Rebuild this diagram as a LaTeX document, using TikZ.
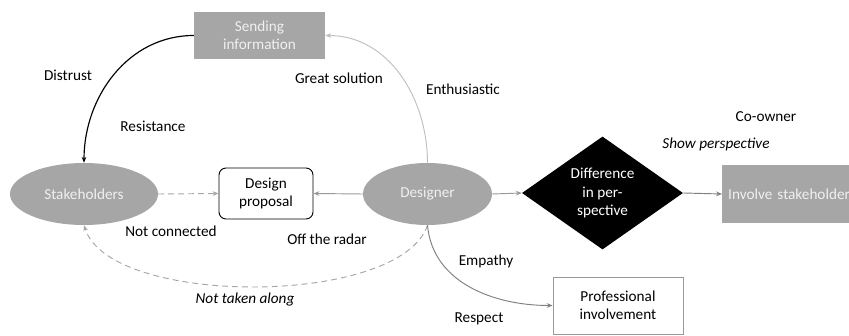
\documentclass[tikz,border=0pt]{standalone}
\usepackage{fontspec}
\setmainfont{Carlito}
\usetikzlibrary{arrows.meta,shapes.geometric,positioning}
\definecolor{boxgray}{HTML}{A6A6A6}
\definecolor{boxtext}{HTML}{F0F0F0}
\definecolor{lightline}{HTML}{BFBFBF}
\definecolor{midline}{HTML}{999999}
\definecolor{darkline}{HTML}{7F7F7F}

\begin{document}
\begin{tikzpicture}[x=0.03cm, y=0.03cm,
    font=\fontsize{13}{15.5}\selectfont,
    >={Stealth[length=5pt,width=4pt]},
    graybox/.style={rectangle, fill=boxgray, text=boxtext, inner sep=0pt, align=center},
    grayoval/.style={ellipse, fill=boxgray, text=boxtext, inner sep=0pt, minimum height=1.86cm},
    whitebox/.style={rectangle, fill=white, inner sep=0pt, align=center},
    conn/.style={->, line width=0.8pt},
    dashconn/.style={->, line width=0.8pt, draw=boxgray, dash pattern=on 5pt off 3.5pt}]
    \useasboundingbox (0,0) rectangle (849,335);

    % Nodes
    \node[graybox, minimum width=3.93cm, minimum height=1.41cm] (send) at (259.5, 299.5) {Sending\\information};
    \node[grayoval, minimum width=4.44cm] (stake) at (84, 141) {Stakeholders};
    \node[whitebox, draw=black, line width=0.8pt, rounded corners=6pt, minimum width=2.82cm, minimum height=1.53cm] (prop) at (266, 141.5) {Design\\proposal};
    \node[grayoval, minimum width=3.87cm] (des) at (427.5, 141) {Designer};
    \node[diamond, fill=black, text=white, inner sep=0pt, align=center, minimum width=4.83cm, minimum height=3cm] (diff) at (602.5, 142) {Difference\\in per-\\spective};
    \node[graybox, anchor=west, align=left, text width=4.4cm, inner xsep=0.18cm, minimum height=1.74cm] (inv) at (722, 141) {Involve stakeholders};
    \node[whitebox, draw=midline, line width=0.8pt, minimum width=3.9cm, minimum height=1.71cm] (prof) at (618, 29.5) {Professional\\involvement};

    % Connectors
    \draw[conn, draw=black, line width=1pt] (send.west) to[out=180, in=90] (stake.north);
    \draw[conn, draw=lightline] (des.north) to[out=90, in=0] (send.east);
    \draw[dashconn] (stake.east) -- (prop.west);
    \draw[conn, draw=midline] (des.west) -- (prop.east);
    \draw[dashconn] (des.south) .. controls (400, 28) and (110, 28) .. (stake.south);
    \draw[conn, draw=darkline] (des.south) to[out=-85, in=180] (prof.west);
    \draw[conn, draw=midline] (des.east) -- (diff.west);
    \draw[conn, draw=darkline] (diff.east) -- (inv.west);

    % Labels
    \node (distrust) at (68, 260) {Distrust};
    \node (resist) at (153, 209) {Resistance};
    \node (great) at (339, 257) {Great solution};
    \node (enth) at (463, 246) {Enthusiastic};
    \node (coown) at (766, 218) {Co-owner};
    \node[font=\fontsize{13}{15.5}\selectfont\itshape] (showp) at (716, 191) {Show perspective};
    \node (notcon) at (171, 104) {Not connected};
    \node (offrad) at (327, 96) {Off the radar};
    \node[font=\fontsize{13}{15.5}\selectfont\itshape] (nottak) at (245, 35) {Not taken along};
    \node (empathy) at (486, 74) {Empathy};
    \node (respect) at (479, 16) {Respect};
\end{tikzpicture}
\end{document}
